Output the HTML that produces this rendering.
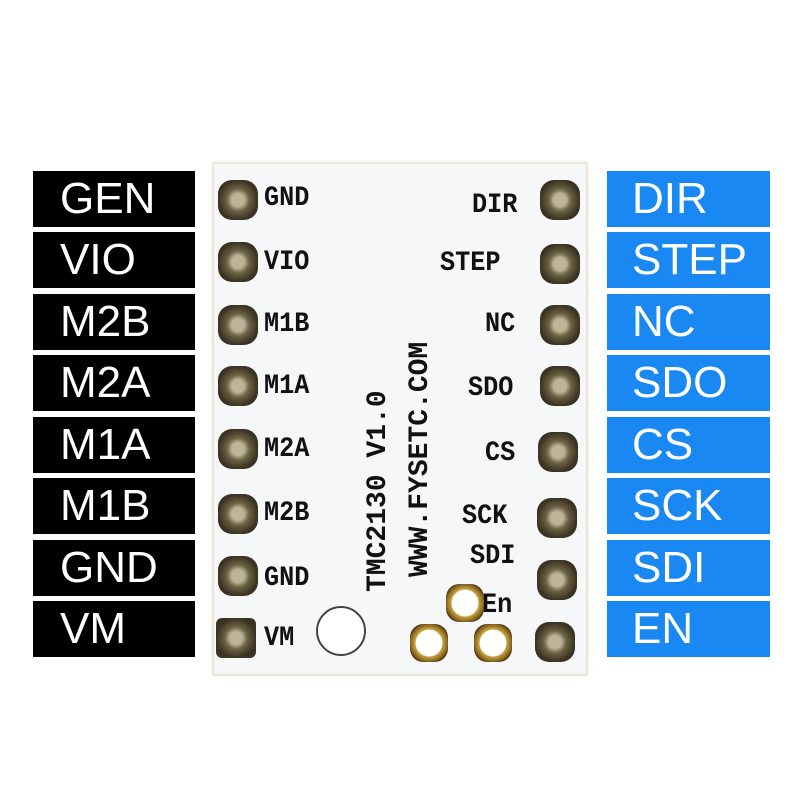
<!DOCTYPE html>
<html><head><style>
body{margin:0;width:800px;height:800px;background:#fff;position:relative;overflow:hidden;font-family:"Liberation Sans",sans-serif}
.l,.r{position:absolute;height:56px;color:#fff;font-size:44px;line-height:56px;box-sizing:border-box}
.l{left:33px;width:162px;background:#000;padding-left:27px}
.r{left:607px;width:163px;background:#1a88f2;padding-left:25px}
.board{position:absolute;left:213px;top:163px;width:372px;height:510px;background:#f6f7f9;box-shadow:0 0 3px #cfc9b0;border:1px solid #e6e2cc}
.pin{position:absolute;width:40px;height:40px;margin:-20px 0 0 -20px;border-radius:35%;background:radial-gradient(circle,#bdb59a 0 22%,#6b6143 40%,#3a3322 70%);}
.pt{position:absolute;font-family:"Liberation Mono",monospace;font-weight:bold;font-size:28px;color:#111;line-height:1;transform:scaleX(0.9);transform-origin:left top}
.pad{position:absolute;width:38px;height:38px;margin:-19px 0 0 -19px;border-radius:35%;background:radial-gradient(circle,#fff 0 48%,#c8a040 52%,#8a6a20 68%,#3a2a10 80%)}
.v{position:absolute;font-family:"Liberation Mono",monospace;font-weight:bold;font-size:28px;color:#111;transform:rotate(-90deg);transform-origin:left top;white-space:nowrap}
</style></head><body>
<div class="l" style="top:171px">GEN</div>
<div class="l" style="top:232px">VIO</div>
<div class="l" style="top:294px">M2B</div>
<div class="l" style="top:355px">M2A</div>
<div class="l" style="top:417px">M1A</div>
<div class="l" style="top:478px">M1B</div>
<div class="l" style="top:540px">GND</div>
<div class="l" style="top:601px">VM</div>
<div class="r" style="top:171px">DIR</div>
<div class="r" style="top:232px">STEP</div>
<div class="r" style="top:294px">NC</div>
<div class="r" style="top:355px">SDO</div>
<div class="r" style="top:417px">CS</div>
<div class="r" style="top:478px">SCK</div>
<div class="r" style="top:540px">SDI</div>
<div class="r" style="top:601px">EN</div>
<div class="board"></div>
<div class="pin" style="left:238px;top:200px"></div>
<div class="pin" style="left:238px;top:262px"></div>
<div class="pin" style="left:238px;top:325px"></div>
<div class="pin" style="left:238px;top:386px"></div>
<div class="pin" style="left:238px;top:449px"></div>
<div class="pin" style="left:238px;top:514px"></div>
<div class="pin" style="left:238px;top:576px"></div>
<div class="pin" style="left:236px;top:638px;border-radius:15%"></div>
<div class="pin" style="left:560px;top:200px"></div>
<div class="pin" style="left:560px;top:264px"></div>
<div class="pin" style="left:560px;top:325px"></div>
<div class="pin" style="left:560px;top:386px"></div>
<div class="pin" style="left:558px;top:452px"></div>
<div class="pin" style="left:557px;top:518px"></div>
<div class="pin" style="left:557px;top:580px"></div>
<div class="pin" style="left:555px;top:642px"></div>
<div class="pt" style="left:264px;top:185px">GND</div>
<div class="pt" style="left:264px;top:249px">VIO</div>
<div class="pt" style="left:264px;top:311px">M1B</div>
<div class="pt" style="left:264px;top:373px">M1A</div>
<div class="pt" style="left:264px;top:436px">M2A</div>
<div class="pt" style="left:264px;top:500px">M2B</div>
<div class="pt" style="left:264px;top:565px">GND</div>
<div class="pt" style="left:264px;top:625px">VM</div>
<div class="pt" style="left:472px;top:192px">DIR</div>
<div class="pt" style="left:440px;top:250px">STEP</div>
<div class="pt" style="left:485px;top:311px">NC</div>
<div class="pt" style="left:468px;top:375px">SDO</div>
<div class="pt" style="left:485px;top:440px">CS</div>
<div class="pt" style="left:462px;top:503px">SCK</div>
<div class="pt" style="left:470px;top:543px">SDI</div>
<div class="pt" style="left:482px;top:592px">En</div>
<div class="v" style="left:363px;top:592px">TMC2130 V1.0</div>
<div class="v" style="left:405px;top:577px">WWW.FYSETC.COM</div>
<div style="position:absolute;left:316px;top:606px;width:46px;height:46px;border-radius:50%;background:#fff;border:2px solid #444"></div>
<div class="pad" style="left:465px;top:603px"></div>
<div class="pad" style="left:429px;top:643px"></div>
<div class="pad" style="left:493px;top:643px"></div>
</body></html>
